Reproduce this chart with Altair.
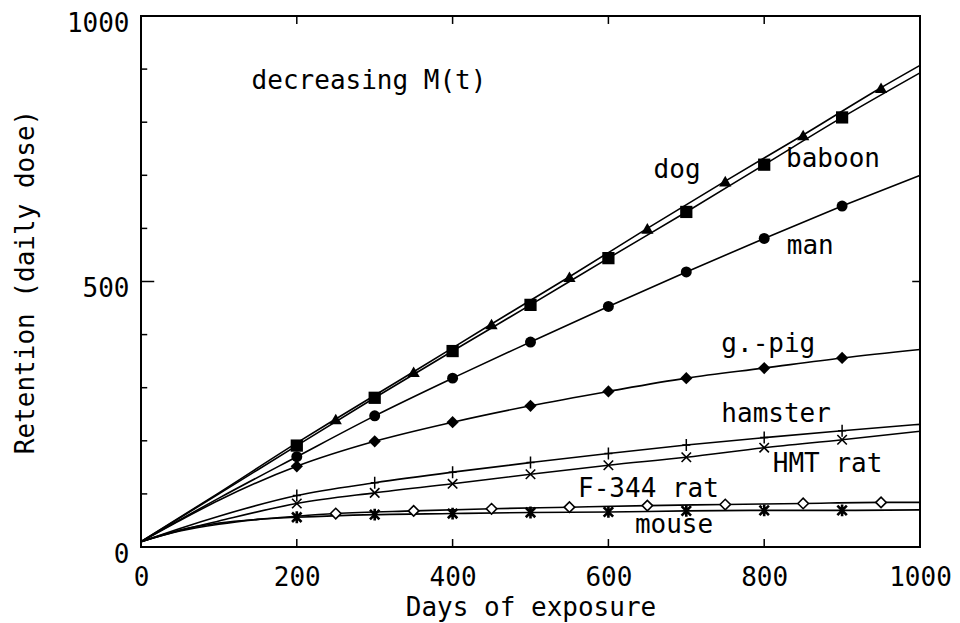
import altair as alt
import pandas as pd

FONT = "DejaVu Sans Mono"
FS = 26

# ---- data (days of exposure, retention in daily doses) ----
dog_days = [0, 100, 200, 250, 350, 450, 550, 650, 750, 850, 950, 1000]
dog_vals = [10, 102, 196, 241, 330, 420, 509, 600, 689, 776, 865, 907]
dog_marks = [250, 350, 450, 550, 650, 750, 850, 950]

baboon_days = [0, 100, 200, 300, 400, 500, 600, 700, 800, 900, 1000]
baboon_vals = [10, 100, 191, 281, 369, 456, 544, 631, 720, 809, 893]
baboon_marks = [200, 300, 400, 500, 600, 700, 800, 900]

man_days = [0, 100, 200, 300, 400, 500, 600, 700, 800, 900, 1000]
man_vals = [10, 92, 170, 247, 318, 386, 453, 518, 581, 642, 700]
man_marks = [200, 300, 400, 500, 600, 700, 800, 900]

gpig_days = [0, 50, 100, 200, 300, 400, 500, 600, 700, 800, 900, 1000]
gpig_vals = [10, 50, 88, 152, 199, 235, 266, 293, 318, 337, 356, 372]
gpig_marks = [200, 300, 400, 500, 600, 700, 800, 900]

hamster_days = [0, 50, 100, 200, 300, 400, 500, 600, 700, 800, 900, 1000]
hamster_vals = [10, 35, 58, 97, 121, 141, 159, 176, 192, 206, 219, 231]
hamster_marks = [200, 300, 400, 500, 600, 700, 800, 900]

hmt_days = [0, 50, 100, 200, 300, 400, 500, 600, 700, 800, 900, 1000]
hmt_vals = [10, 31, 49, 82, 102, 119, 137, 154, 169, 187, 202, 218]
hmt_marks = [200, 300, 400, 500, 600, 700, 800, 900]

f344_days = [0, 50, 100, 150, 200, 250, 350, 450, 550, 650, 750, 850, 950, 1000]
f344_vals = [10, 30, 43, 52, 58, 63, 68, 72, 75, 78, 80, 82, 84, 84]
f344_marks = [250, 350, 450, 550, 650, 750, 850, 950]

mouse_days = [0, 50, 100, 150, 200, 300, 400, 500, 600, 700, 800, 900, 1000]
mouse_vals = [10, 32, 45, 52, 56, 61, 63, 65, 66, 68, 69, 69, 70]
mouse_marks = [200, 300, 400, 500, 600, 700, 800, 900]

label_texts = ["decreasing M(t)", "dog", "baboon", "man", "g.-pig",
               "hamster", "HMT rat", "F-344 rat", "mouse"]
label_days = [142, 658, 828, 829, 745, 745, 811, 561, 634]
label_vals = [878, 710, 730, 567, 382, 251, 157, 110, 41]

x_tick_values = [0, 200, 400, 600, 800, 1000]
y_tick_values = [0, 500, 1000]
left_minor = [100, 200, 300, 400, 600, 700, 800, 900]
left_major = [500]
bottom_minor = [200, 400, 600, 800]
top_minor = [200, 400, 600, 800]
right_major = [500]

series = {
    "dog": (dog_days, dog_vals, dog_marks),
    "baboon": (baboon_days, baboon_vals, baboon_marks),
    "man": (man_days, man_vals, man_marks),
    "g.-pig": (gpig_days, gpig_vals, gpig_marks),
    "hamster": (hamster_days, hamster_vals, hamster_marks),
    "HMT rat": (hmt_days, hmt_vals, hmt_marks),
    "F-344 rat": (f344_days, f344_vals, f344_marks),
    "mouse": (mouse_days, mouse_vals, mouse_marks),
}

line_rows, mark_rows = [], []
for name, (d, v, m) in series.items():
    lut = dict(zip(d, v))
    for a, b in zip(d, v):
        line_rows.append({"series": name, "day": a, "val": b})
    for a in m:
        mark_rows.append({"series": name, "day": a, "val": lut[a]})
lines_df = pd.DataFrame(line_rows)
marks_df = pd.DataFrame(mark_rows)

xs = alt.Scale(domain=[0, 1000], nice=False, zero=False)
ys = alt.Scale(domain=[0, 1000], nice=False, zero=False)

X = alt.X("day:Q", scale=xs, title="Days of exposure",
          axis=alt.Axis(values=x_tick_values, format="d", labelPadding=17,
                        labelFlush=False, titlePadding=4))
Y = alt.Y("val:Q", scale=ys, title="Retention (daily dose)",
          axis=alt.Axis(values=y_tick_values, format="d", labelPadding=12,
                        labelFlush=False, labelOffset=7, titlePadding=28))

lines = alt.Chart(lines_df).mark_line(
    color="black", strokeWidth=1.6, interpolate="monotone"
).encode(x=X, y=Y, detail="series:N")

PLUS = "M0,-1.2L0,1.2M-0.8,0L0.8,0"
XSHAPE = "M-0.8,-0.8L0.8,0.8M-0.8,0.8L0.8,-0.8"
ASTER = "M-0.8,-0.8L0.8,0.8M-0.8,0.8L0.8,-0.8M0,-1L0,1"

marker_styles = {
    "dog": dict(shape="triangle-up", filled=True, size=150, color="black"),
    "baboon": dict(shape="square", filled=True, size=150, color="black"),
    "man": dict(shape="circle", filled=True, size=120, color="black"),
    "g.-pig": dict(shape="diamond", filled=True, size=150, color="black"),
    "hamster": dict(shape=PLUS, filled=False, size=100, color="black", strokeWidth=1.5),
    "HMT rat": dict(shape=XSHAPE, filled=False, size=140, color="black", strokeWidth=1.6),
    "F-344 rat": dict(shape="diamond", filled=True, fill="white", stroke="black",
                      size=110, strokeWidth=1.6),
    "mouse": dict(shape=ASTER, filled=False, size=140, color="black", strokeWidth=2.6),
}

point_layers = []
for name, style in marker_styles.items():
    sub = marks_df[marks_df["series"] == name]
    point_layers.append(
        alt.Chart(sub).mark_point(opacity=1, **style).encode(x=X, y=Y)
    )

labels_df = pd.DataFrame({"day": label_days, "val": label_vals, "txt": label_texts})
labels = alt.Chart(labels_df).mark_text(
    align="left", baseline="middle", font=FONT, fontSize=FS, color="black"
).encode(x=X, y=Y, text="txt:N")

# inward tick marks
lm = alt.Chart(pd.DataFrame({"val": left_minor})).mark_rule(color="black", strokeWidth=1.5).encode(
    y=Y, x=alt.datum(0, scale=xs), x2=alt.datum(8))
lM = alt.Chart(pd.DataFrame({"val": left_major})).mark_rule(color="black", strokeWidth=1.5).encode(
    y=Y, x=alt.datum(0, scale=xs), x2=alt.datum(17))
bm = alt.Chart(pd.DataFrame({"day": bottom_minor})).mark_rule(color="black", strokeWidth=1.5).encode(
    x=X, y=alt.datum(0, scale=ys), y2=alt.datum(15))
tm = alt.Chart(pd.DataFrame({"day": top_minor})).mark_rule(color="black", strokeWidth=1.5).encode(
    x=X, y=alt.datum(1000, scale=ys), y2=alt.datum(985))
rM = alt.Chart(pd.DataFrame({"val": right_major})).mark_rule(color="black", strokeWidth=1.5).encode(
    y=Y, x=alt.datum(1000, scale=xs), x2=alt.datum(990))

chart = alt.layer(lines, *point_layers, labels, lm, lM, bm, tm, rM).properties(
    width=779, height=531,
    autosize=alt.AutoSizeParams(type="none"),
    padding={"left": 133, "top": 8, "right": 32, "bottom": 76},
    background="white",
).configure_view(
    stroke="black", strokeWidth=2
).configure_axis(
    domain=False, ticks=False, grid=False,
    labelFont=FONT, labelFontSize=FS, labelColor="black",
    titleFont=FONT, titleFontSize=FS, titleColor="black", titleFontWeight="normal",
)

chart.save("out.html", embed_options={"renderer": "svg", "actions": False})
